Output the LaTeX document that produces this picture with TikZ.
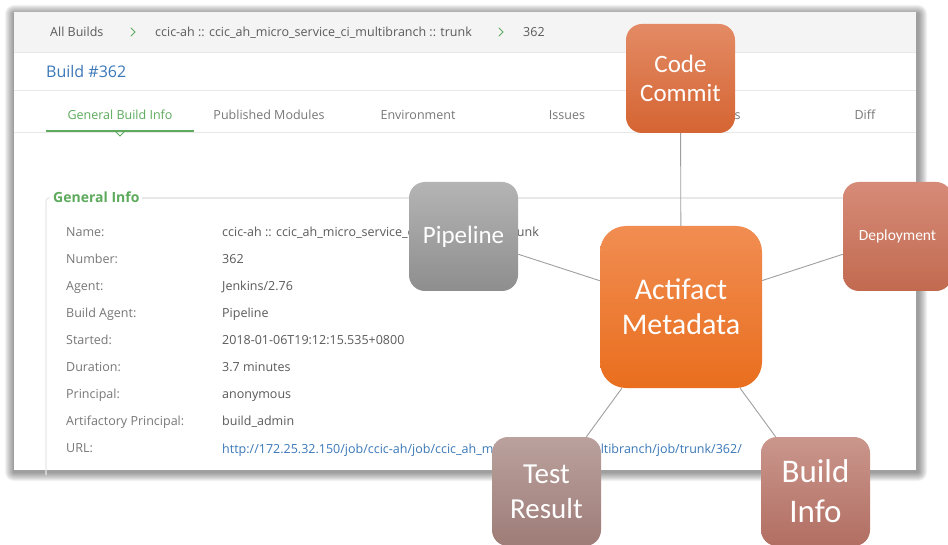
\documentclass[tikz,border=0pt]{standalone}
\usepackage{fontspec}
\setmainfont{Open Sans}
\newfontfamily\caixafont{Carlito}

\definecolor{verde}{HTML}{5DAA5D}
\definecolor{azul}{HTML}{3B78B8}
\definecolor{rotulo}{HTML}{777777}
\definecolor{valor}{HTML}{5A5A5A}
\definecolor{barra}{HTML}{F4F4F4}
\definecolor{linha}{HTML}{E8E8E8}

\begin{document}
\begin{tikzpicture}[x=1pt,y=-1pt]
  %--------------------------------------------
  % Tamanhos (1 unidade = 1 pixel da captura)
  %--------------------------------------------
  \def\lado{109}    % lado das caixas menores
  \def\ladoM{162}   % lado da caixa central
  \def\passo{27}    % distancia entre as linhas de info

  %--------------------------------------------
  % Estilos
  %--------------------------------------------
  \tikzstyle{tela} = [
    font=\fontsize{12.5}{15}\selectfont, inner sep=0, anchor=west,
    text height=11, text depth=2                 % linhas sempre alinhadas
  ]
  \tikzstyle{caixa} = [
    rounded corners=16, inner sep=0, align=center, text=white,   % cantos e texto branco
    minimum width=\lado, minimum height=\lado                    % tamanho fixo
  ]
  \tikzstyle{conector} = [draw=gray!75, line width=0.9]
  \tikzstyle{chevron} = [verde, line width=1, line cap=round]

  \useasboundingbox (0,0) rectangle (948,545);

  %--------------------------------------------
  % Sombra e fundo da captura de tela
  %--------------------------------------------
  \foreach \k in {1,...,9}
    \fill[black, opacity=0.05, rounded corners=\k]
      (14-\k,12-\k+2) rectangle (916+\k+2,470+\k+2);
  \fill[white] (14,12) rectangle (916,470);
  \fill[barra] (14,12) rectangle (916,52);
  \draw[linha] (14,52) -- (916,52);
  \draw[linha] (14,90) -- (916,90);
  \draw[linha] (14,132) -- (916,132);

  %--------------------------------------------
  % Trilha de navegacao e titulo
  %--------------------------------------------
  \node[tela, text=valor] (todos) at (50,32) {All Builds};
  \draw[chevron] (131,28) -- (135,32) -- (131,36);
  \node[tela, text=valor] (job) at (155,32) {ccic-ah :: ccic\_ah\_micro\_service\_ci\_multibranch :: trunk};
  \draw[chevron] (499,28) -- (503,32) -- (499,36);
  \node[tela, text=valor] (num) at (523,32) {362};
  \node[tela, text=azul, font=\fontsize{16}{18}\selectfont, text height=14, text depth=2] (titulo) at (46,72) {Build \#362};

  %--------------------------------------------
  % Abas
  %--------------------------------------------
  \foreach [count=\i] \aba in {General Build Info,Published Modules,Environment,Issues,Licenses,Diff}
  {
    \node[tela, anchor=center, text=rotulo] (aba\i) at ({120+149*(\i-1)},115) {\aba};
  }
  \node[tela, anchor=center, text=verde, fill=white] at (aba1) {General Build Info};
  \draw[verde, line width=1.5] (46,131) -- (194,131);
  \draw[verde, line width=1] (115,131) -- (120,136) -- (125,131);

  %--------------------------------------------
  % Quadro General Info
  %--------------------------------------------
  \draw[linha, line width=1.2, rounded corners=3] (50,198) -- (46,198) -- (46,475);
  \draw[linha, line width=1.2] (142,198) -- (905,198);
  \node[tela, text=verde, font=\fontsize{14}{16}\selectfont\bfseries, text height=12, text depth=2] (geral) at (53,198) {General Info};

  \foreach [count=\i] \rot in {Name:,Number:,Agent:,Build Agent:,Started:,Duration:,Principal:,Artifactory Principal:,URL:}
  {
    \node[tela, text=rotulo] (rot\i) at (66,{232+\passo*(\i-1)}) {\rot};
  }
  \foreach [count=\i] \val in {ccic-ah :: ccic\_ah\_micro\_service\_ci\_multibranch :: trunk,362,Jenkins/2.76,Pipeline,2018-01-06T19:12:15.535+0800,3.7 minutes,anonymous,build\_admin}
  {
    \node[tela, text=valor] (val\i) at (222,{232+\passo*(\i-1)}) {\val};
  }
  \node[tela, text=azul] (val9) at (222,449) {http://172.25.32.150/job/ccic-ah/job/ccic\_ah\_micro\_service\_ci\_multibranch/job/trunk/362/};

  %--------------------------------------------
  % Caixas do metadado
  %--------------------------------------------
  \node[caixa, top color={rgb,255:red,241;green,141;blue,82}, bottom color={rgb,255:red,233;green,110;blue,30},
        minimum width=\ladoM, minimum height=\ladoM, rounded corners=26,
        font=\caixafont\fontsize{30}{35}\selectfont] (meta) at (681,307) {Actifact\\Metadata};
  \node[caixa, top color={rgb,255:red,227;green,139;blue,101}, bottom color={rgb,255:red,213;green,100;blue,50},
        font=\caixafont\fontsize{25}{29}\selectfont] (codigo) at (680.5,78.5) {Code\\Commit};
  \node[caixa, top color={rgb,255:red,180;green,180;blue,180}, bottom color={rgb,255:red,142;green,142;blue,142},
        font=\caixafont\fontsize{25}{29}\selectfont] (pipe) at (463.5,236.5) {Pipeline};
  \node[caixa, top color={rgb,255:red,214;green,139;blue,120}, bottom color={rgb,255:red,194;green,106;blue,80},
        font=\caixafont\fontsize{15.5}{18}\selectfont] (deploy) at (897.5,236.5) {Deployment};
  \node[caixa, top color={rgb,255:red,186;green,161;blue,157}, bottom color={rgb,255:red,158;green,124;blue,120},
        font=\caixafont\fontsize{29}{35}\selectfont] (teste) at (546.5,491.5) {Test\\Result};
  \node[caixa, top color={rgb,255:red,202;green,150;blue,140}, bottom color={rgb,255:red,178;green,110;blue,98},
        font=\caixafont\fontsize{33}{40}\selectfont] (build) at (815.5,491.5) {Build\\Info};

  %--------------------------------------------
  % Ligacoes
  %--------------------------------------------
  \foreach \alvo in {codigo,pipe,deploy,teste,build}
    \draw[conector] (meta) -- (\alvo);
\end{tikzpicture}
\end{document}
